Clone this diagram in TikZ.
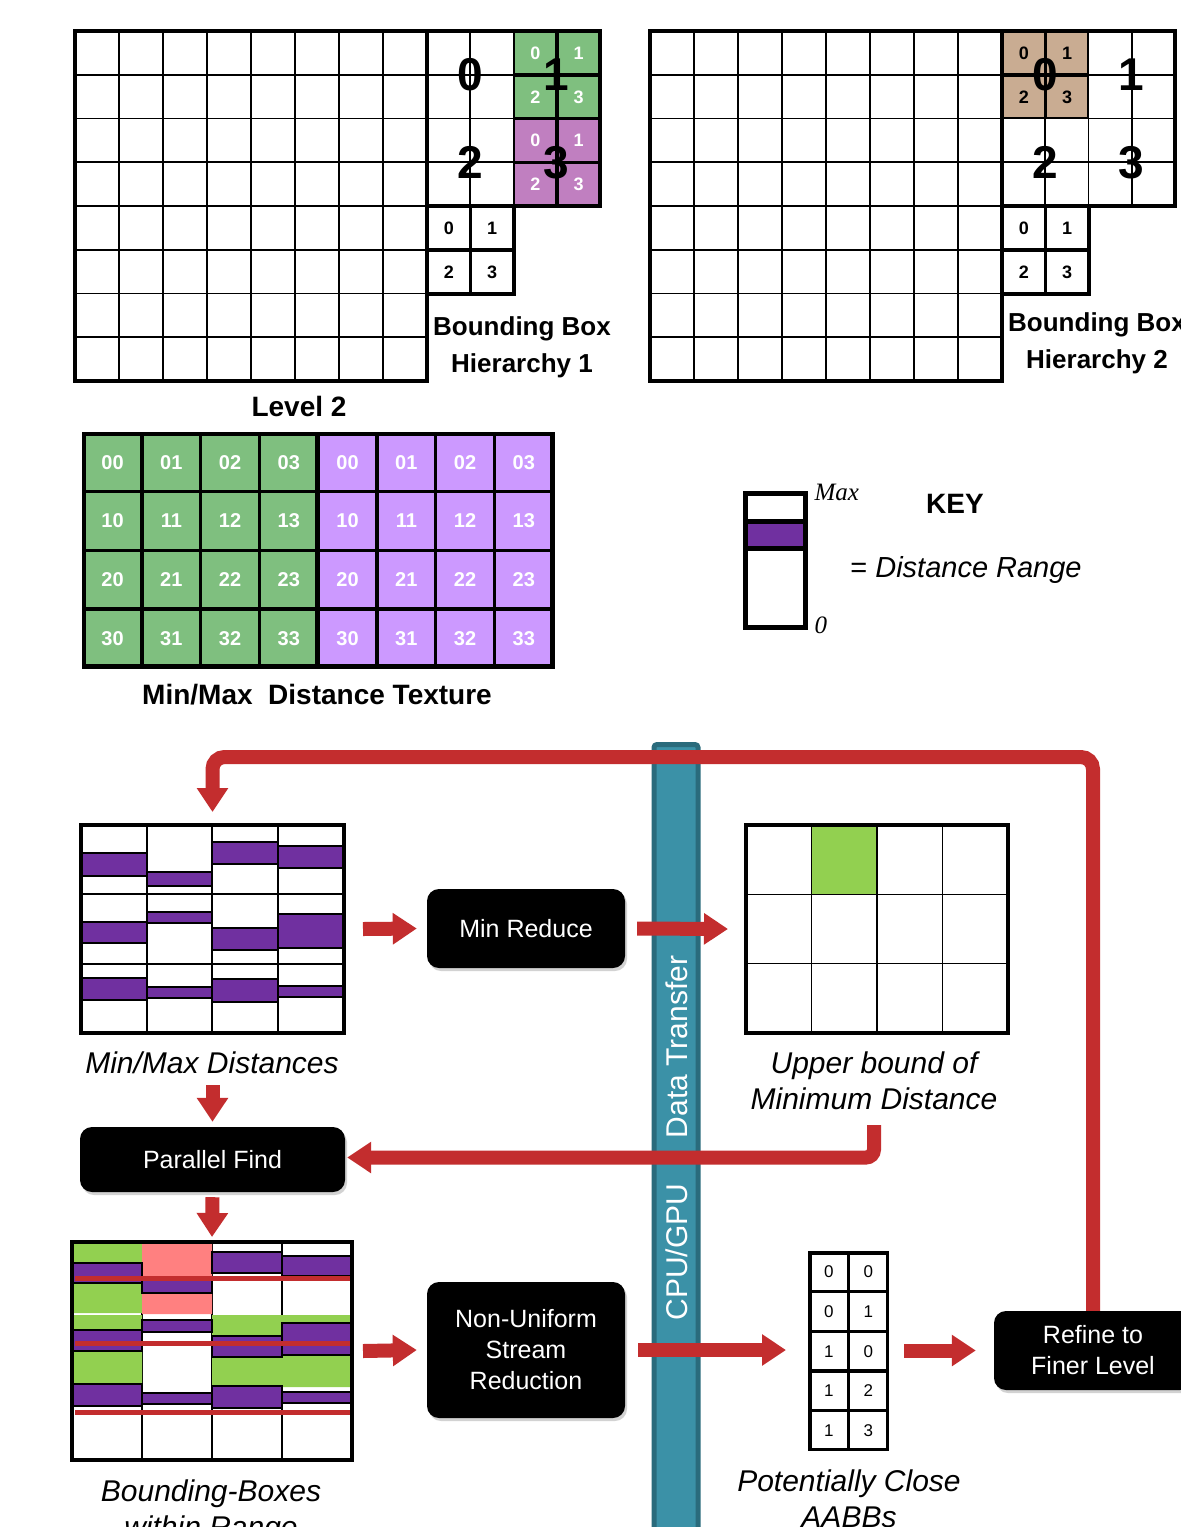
\documentclass[tikz,border=0pt]{standalone}
\usepackage{fontspec}
\setmainfont{Liberation Sans}
\newfontfamily\keyserif{Liberation Serif}
\usepackage{tikz}
\usetikzlibrary{calc,positioning,matrix,arrows.meta,shadows}
\definecolor{hgreen}{HTML}{7FBF7F}
\definecolor{hpurple}{HTML}{C07FC0}
\definecolor{htan}{HTML}{C9AC92}
\definecolor{tpurple}{HTML}{CC99FF}
\definecolor{rangepurple}{HTML}{7030A0}
\definecolor{hitgreen}{HTML}{92D050}
\definecolor{hitpink}{HTML}{FF8080}
\definecolor{arrowred}{HTML}{C32D2E}
\definecolor{barblue}{HTML}{3B91A7}
\definecolor{bardark}{HTML}{2A6B7C}
\newcommand{\lblfont}{\fontsize{26}{37}\selectfont\bfseries}
\newcommand{\biglblfont}{\fontsize{28}{28}\selectfont\bfseries}
\newcommand{\digfont}{\fontsize{46}{46}\selectfont\bfseries}
\newcommand{\subfont}{\fontsize{18}{18}\selectfont\bfseries}
\newcommand{\cellfont}{\fontsize{20}{20}\selectfont\bfseries}
\newcommand{\capfont}{\fontsize{30}{36}\selectfont\itshape}
\newcommand{\boxfont}{\fontsize{25}{31}\selectfont}
\newcommand{\barfont}{\fontsize{30}{30}\selectfont}
\newcommand{\tabfont}{\fontsize{17}{17}\selectfont}

\begin{document}
\begin{tikzpicture}[x=1pt,y=1pt,
    thinline/.style={line width=1.6pt},
    thickline/.style={line width=4pt},
    gridframe/.style={inner sep=0pt,outer sep=0pt,anchor=north west},
    quad/.style={matrix of nodes,ampersand replacement=\&,anchor=north west,inner sep=0pt,
      column sep=0pt,row sep=0pt,
      nodes={draw,thinline,minimum width=41.65pt,minimum height=42.15pt,inner sep=0pt,outer sep=0pt,font=\subfont}},
    rangebox/.style={fill=rangepurple,draw=black,line width=1.2pt},
    redarrow/.style={draw=arrowred,line width=14pt,-{Triangle[width=30pt,length=24pt]}},
    procbox/.style={fill=black,text=white,rounded corners=12pt,minimum width=198pt,align=center,
      font=\boxfont,inner sep=0pt,drop shadow={opacity=0.35,shadow xshift=2pt,shadow yshift=-3pt}}]
  \useasboundingbox (0,0) rectangle (1181,-1527);
  \fill[white] (0,0) rectangle (1181,-1527);

  % level 2 grid and hierarchy 1
  \draw[thinline,xstep=44pt,ystep=43.75pt,shift={(75,-381)}] (0,0) grid (352,350);
  \draw[thinline,xstep=43.25pt,ystep=43.75pt,shift={(427,-206)}] (0,0) grid (173,175);
  \matrix (hAone) [quad,nodes={fill=hgreen,text=white}] at (513.5,-31) {0 \& 1 \\ 2 \& 3 \\};
  \matrix (hAthree) [quad,nodes={fill=hpurple,text=white}] at (513.5,-118.5) {0 \& 1 \\ 2 \& 3 \\};
  \matrix (hAlow) [quad] at (427,-206) {0 \& 1 \\ 2 \& 3 \\};
  \draw[thickline] (75,-31) rectangle (427,-381);
  \draw[thickline] (427,-31) -- (600,-31) -- (600,-206) -- (427,-206);
  \draw[thickline] (hAlow.north east) -- (hAlow.south east) -- (hAlow.south west);
  \node[font=\digfont] at (470.25,-74.75) {0};
  \node[font=\digfont] at (556.75,-74.75) {1};
  \node[font=\digfont] at (470.25,-162.25) {2};
  \node[font=\digfont] at (556.75,-162.25) {3};
  \node[font=\lblfont,align=center] (hAlbl) at (522,-347) {Bounding Box\\Hierarchy 1};
  \node[font=\biglblfont,anchor=base] (lvllbl) at (299,-416) {Level 2};

  % hierarchy 2
  \draw[thinline,xstep=44pt,ystep=43.75pt,shift={(650,-381)}] (0,0) grid (352,350);
  \draw[thinline,xstep=43.25pt,ystep=43.75pt,shift={(1002,-206)}] (0,0) grid (173,175);
  \matrix (hBzero) [quad,nodes={fill=htan}] at (1002,-31) {0 \& 1 \\ 2 \& 3 \\};
  \matrix (hBlow) [quad] at (1002,-206) {0 \& 1 \\ 2 \& 3 \\};
  \draw[thickline] (650,-31) rectangle (1002,-381);
  \draw[thickline] (1002,-31) -- (1175,-31) -- (1175,-206) -- (1002,-206);
  \draw[thickline] (hBlow.north east) -- (hBlow.south east) -- (hBlow.south west);
  \node[font=\digfont] at (1045.25,-74.75) {0};
  \node[font=\digfont] at (1131.75,-74.75) {1};
  \node[font=\digfont] at (1045.25,-162.25) {2};
  \node[font=\digfont] at (1131.75,-162.25) {3};
  \node[font=\lblfont,align=center] (hBlbl) at (1097,-343) {Bounding Box\\Hierarchy 2};

  % min/max texture
  \matrix (tex) [matrix of nodes,ampersand replacement=\&,anchor=north west,inner sep=0pt,
    column sep=0pt,row sep=0pt,
    nodes={draw,thinline,fill=hgreen,text=white,font=\cellfont,minimum width=57.15pt,
      minimum height=56.9pt,inner sep=0pt,outer sep=0pt},
    column 5/.style={nodes={fill=tpurple}},column 6/.style={nodes={fill=tpurple}},
    column 7/.style={nodes={fill=tpurple}},column 8/.style={nodes={fill=tpurple}}] at (83,-433) {
    00 \& 01 \& 02 \& 03 \& 00 \& 01 \& 02 \& 03 \\
    10 \& 11 \& 12 \& 13 \& 10 \& 11 \& 12 \& 13 \\
    20 \& 21 \& 22 \& 23 \& 20 \& 21 \& 22 \& 23 \\
    30 \& 31 \& 32 \& 33 \& 30 \& 31 \& 32 \& 33 \\
  };
  \draw[line width=4.5pt] (tex-1-1.north west) rectangle (tex-4-8.south east);
  \draw[line width=4.5pt] (tex-1-4.north east) -- (tex-4-4.south east);
  \node[font=\biglblfont,anchor=base] (texlbl) at (317,-704) {Min/Max\ \ Distance Texture};

  % key
  \node[gridframe,minimum width=60pt,minimum height=134pt] (keybar) at (745,-493) {};
  \fill[rangepurple] (745,-521) rectangle (805,-548);
  \draw[line width=5pt] (keybar.north west) rectangle (keybar.south east);
  \draw[line width=5pt] (745,-521) -- (805,-521) (745,-548) -- (805,-548);
  \node[font=\keyserif\fontsize{25}{25}\selectfont\itshape,anchor=base west] (maxlbl) at (811,-500) {Max};
  \node[font=\keyserif\fontsize{25}{25}\selectfont\itshape,anchor=base west] (zerolbl) at (811,-633) {0};
  \node[font=\fontsize{28}{28}\selectfont\bfseries,anchor=base] (keylbl) at (955,-513) {KEY};
  \node[font=\fontsize{29}{29}\selectfont,anchor=base] (rangelbl) at (966,-577) {= \textit{Distance Range}};

  % cpu/gpu bus
  \node[draw=bardark,line width=5pt,fill=barblue,rounded corners=3pt,anchor=north,
    minimum width=44pt,minimum height=800pt] (bus) at (676,-742) {};
  \node[rotate=90,text=white,font=\barfont] (buslblA) at (677,-1047) {Data Transfer};
  \node[rotate=90,text=white,font=\barfont] (buslblB) at (677,-1252) {CPU/GPU};

  % min/max distances
  \node[gridframe,minimum width=263pt,minimum height=208pt] (mmd) at (81,-825) {};
  \draw[thinline] (81,-894) -- (344,-894) (81,-964) -- (344,-964)
    (147,-825) -- (147,-1033) (212,-825) -- (212,-1033) (278,-825) -- (278,-1033);
  \draw[rangebox] (81,-853) rectangle (147,-876) (81,-922) rectangle (147,-943) (81,-978) rectangle (147,-1000);
  \draw[rangebox] (147,-872) rectangle (212,-886) (147,-912) rectangle (212,-923) (147,-987) rectangle (212,-998);
  \draw[rangebox] (212,-842) rectangle (278,-864) (212,-928) rectangle (278,-950) (212,-979) rectangle (278,-1002);
  \draw[rangebox] (278,-846) rectangle (344,-868) (278,-914) rectangle (344,-948) (278,-986) rectangle (344,-997);
  \draw[thickline] (mmd.north west) rectangle (mmd.south east);
  \node[font=\capfont,anchor=base] (mmdlbl) at (212,-1073) {Min/Max Distances};

  \node[procbox,minimum height=79pt] (minred) at (526,-928.5) {Min Reduce};

  % upper bound
  \node[gridframe,minimum width=262pt,minimum height=208pt] (ub) at (746,-825) {};
  \fill[hitgreen] (811.5,-825) rectangle (877,-894.3);
  \draw[thinline,xstep=65.5pt,ystep=69.33pt,shift={(746,-1033)}] (0,0) grid (262,208);
  \draw[line width=3.5pt] (ub.north west) rectangle (ub.south east);
  \node[font=\capfont,align=center] (ublbl) at (874,-1081) {Upper bound of\\Minimum Distance};

  \node[procbox,minimum width=265pt,minimum height=65pt] (pfind) at (212.5,-1159.5) {Parallel Find};

  % bounding boxes within range
  \node[gridframe,minimum width=280pt,minimum height=218pt] (bbr) at (72,-1242) {};
  \draw[thinline] (142,-1242) -- (142,-1460) (212,-1242) -- (212,-1460) (282,-1242) -- (282,-1460);
  \fill[hitgreen] (72,-1243) rectangle (142,-1263) (72,-1284) rectangle (142,-1313)
    (72,-1315) rectangle (142,-1330) (72,-1352) rectangle (142,-1383);
  \fill[hitpink] (142,-1243) rectangle (212,-1277) (142,-1294) rectangle (212,-1314);
  \fill[hitgreen] (212,-1315) rectangle (282,-1336) (212,-1357) rectangle (282,-1385);
  \fill[hitgreen] (282,-1315) rectangle (352,-1323) (282,-1355) rectangle (352,-1387);
  \draw[rangebox] (72,-1263) rectangle (142,-1283) (72,-1330) rectangle (142,-1351) (72,-1384) rectangle (142,-1406);
  \draw[rangebox] (142,-1277) rectangle (212,-1293) (142,-1320) rectangle (212,-1332) (142,-1393) rectangle (212,-1404);
  \draw[rangebox] (212,-1252) rectangle (282,-1273) (212,-1336) rectangle (282,-1357) (212,-1386) rectangle (282,-1408);
  \draw[rangebox] (282,-1256) rectangle (352,-1276) (282,-1323) rectangle (352,-1355) (282,-1392) rectangle (352,-1403);
  \draw[arrowred,line width=5pt] (75,-1278) -- (351,-1278) (75,-1343) -- (351,-1343) (75,-1412) -- (351,-1412);
  \draw[thickline] (bbr.north west) rectangle (bbr.south east);
  \node[font=\capfont,align=center] (bbrlbl) at (211,-1512) {Bounding-Boxes\\within Range};

  \node[procbox,minimum height=136pt] (nusr) at (526,-1350) {Non-Uniform\\Stream\\Reduction};

  % potentially close pairs
  \matrix (aabb) [matrix of nodes,ampersand replacement=\&,anchor=north west,inner sep=0pt,
    column sep=0pt,row sep=0pt,
    nodes={draw,thinline,minimum width=37.9pt,minimum height=38pt,inner sep=0pt,outer sep=0pt,font=\tabfont}] at (809,-1252) {
    0 \& 0 \\
    0 \& 1 \\
    1 \& 0 \\
    1 \& 2 \\
    1 \& 3 \\
  };
  \draw[line width=3.5pt] (aabb-1-1.north west) rectangle (aabb-5-2.south east);
  \node[font=\capfont,align=center] (aabblbl) at (849,-1499) {Potentially Close\\AABBs};

  \node[procbox,minimum height=79pt] (refine) at (1093,-1350.5) {Refine to\\Finer Level};

  % flow
  \draw[redarrow] ($(mmd.east)+(19,0)$) -- ($(minred.west)+(-10,0)$);
  \draw[redarrow] ($(minred.east)+(12,0)$) -- ($(ub.west)+(-18,0)$);
  \draw[redarrow] ($(mmd.south)+(0,-52)$) -- ($(pfind.north)+(0,5)$);
  \draw[redarrow,rounded corners=8pt] ($(ub.south)+(-3,-92)$) |- ($(pfind.east)+(2,2)$);
  \draw[redarrow] ($(pfind.south)+(0,-5)$) -- ($(bbr.north)+(0,5)$);
  \draw[redarrow] ($(bbr.east)+(11,0)$) -- ($(nusr.west)+(-10,0)$);
  \draw[redarrow] ($(nusr.east)+(13,0)$) -- ($(nusr.east -| aabb.west)+(-23,0)$);
  \draw[redarrow] ($(aabb.east |- refine.west)+(16,0)$) -- ($(refine.west)+(-18,0)$);
  \draw[redarrow,rounded corners=12pt] (refine.north) |- ($(mmd.north)+(0,68)$) -- ($(mmd.north)+(0,13)$);
\end{tikzpicture}
\end{document}
